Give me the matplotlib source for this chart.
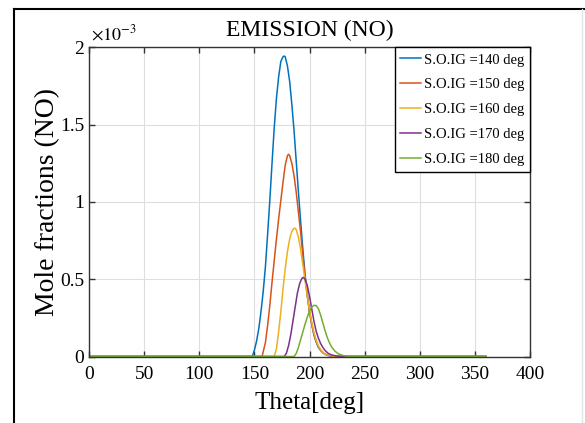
import matplotlib
matplotlib.use("Agg")
import matplotlib.pyplot as plt
from matplotlib.lines import Line2D

plt.rcParams['font.family'] = ['Liberation Serif', 'DejaVu Serif']
plt.rcParams['mathtext.fontset'] = 'stix'

# NO mole fraction, in units of 1e-3
theta_140 = [0, 148, 150, 152, 154, 156, 158, 160, 162, 164, 166, 168, 170, 172, 174, 176, 177, 178,
             180, 182, 184, 186, 188, 190, 192, 194, 196, 198, 200, 202, 204, 206, 208, 210, 213, 216,
             220, 224, 360]
no_140 = [0, 0, 0.04, 0.10, 0.18, 0.29, 0.42, 0.58, 0.79, 1.01, 1.25, 1.48, 1.67, 1.81, 1.91, 1.94, 1.945,
          1.94, 1.88, 1.78, 1.63, 1.46, 1.26, 1.06, 0.87, 0.69, 0.53, 0.40, 0.29, 0.21, 0.14, 0.095, 0.06,
          0.04, 0.02, 0.008, 0.002, 0, 0]

theta_150 = [0, 157, 158, 160, 162, 164, 166, 168, 170, 172, 174, 176, 178, 180, 181, 182, 184, 186, 188,
             190, 192, 194, 196, 198, 200, 202, 204, 206, 208, 210, 213, 216, 220, 225, 360]
no_150 = [0, 0, 0.03, 0.09, 0.20, 0.33, 0.48, 0.62, 0.76, 0.89, 1.01, 1.13, 1.24, 1.30, 1.309, 1.30, 1.25,
          1.17, 1.06, 0.93, 0.80, 0.65, 0.51, 0.39, 0.29, 0.21, 0.145, 0.10, 0.065, 0.04, 0.02, 0.009,
          0.003, 0, 0]

theta_160 = [0, 168, 170, 172, 174, 176, 178, 180, 182, 184, 186, 187, 188, 190, 192, 194, 196, 198, 200,
             202, 204, 206, 208, 210, 213, 216, 220, 226, 360]
no_160 = [0, 0, 0.05, 0.16, 0.29, 0.44, 0.57, 0.68, 0.76, 0.81, 0.83, 0.83, 0.82, 0.77, 0.69, 0.59, 0.49,
          0.39, 0.30, 0.22, 0.155, 0.105, 0.07, 0.045, 0.022, 0.01, 0.003, 0, 0]

theta_170 = [0, 177, 179, 181, 183, 185, 187, 189, 191, 193, 194.5, 196, 198, 200, 202, 204, 206, 208,
             210, 212, 214, 217, 220, 224, 230, 360]
no_170 = [0, 0, 0.02, 0.07, 0.14, 0.23, 0.32, 0.41, 0.47, 0.505, 0.512, 0.50, 0.46, 0.39, 0.31, 0.23,
          0.165, 0.12, 0.085, 0.06, 0.04, 0.02, 0.01, 0.004, 0, 0]

theta_180 = [0, 186, 188, 190, 192, 194, 196, 198, 200, 202, 204, 206, 208, 210, 212, 214, 216, 218, 220,
             223, 226, 230, 236, 360]
no_180 = [0, 0, 0.02, 0.06, 0.11, 0.16, 0.21, 0.255, 0.295, 0.32, 0.331, 0.33, 0.31, 0.27, 0.22, 0.17,
          0.125, 0.09, 0.062, 0.035, 0.018, 0.007, 0, 0]

labels = ['S.O.IG =140 deg', 'S.O.IG =150 deg', 'S.O.IG =160 deg', 'S.O.IG =170 deg', 'S.O.IG =180 deg']
colors = ['#0072BD', '#D95319', '#EDB120', '#7E2F8E', '#77AC30']
x_ticks = [0, 50, 100, 150, 200, 250, 300, 350, 400]
y_ticks = [0, 0.5, 1, 1.5, 2]
y_tick_labels = ['0', '0.5', '1', '1.5', '2']

fig = plt.figure(figsize=(5.85, 4.23), dpi=100)
ax = fig.add_axes([89 / 585, (423 - 356.5) / 423, 441 / 585, 309 / 423])

series = [(theta_140, no_140), (theta_150, no_150), (theta_160, no_160),
          (theta_170, no_170), (theta_180, no_180)]
for (th, no), lab, col in zip(series, labels, colors):
    ax.plot(th, no, color=col, lw=1.1, label=lab)

ax.set_xlim(0, 400)
ax.set_ylim(0, 2)
ax.set_xticks(x_ticks)
ax.set_yticks(y_ticks)
ax.set_yticklabels(y_tick_labels)
ax.grid(True, color='#dedede', lw=0.8)
ax.tick_params(direction='in', top=True, right=True, length=4, width=1,
               labelsize=14, color='#333333')
ax.tick_params(axis='x', pad=7)
for s in ax.spines.values():
    s.set_color('#333333')
    s.set_linewidth(1.0)

ax.set_title('EMISSION (NO)', fontsize=17, pad=8)
ax.set_xlabel('Theta[deg]', fontsize=18)
ax.xaxis.set_label_coords(0.5, -0.115)
ax.set_ylabel('Mole fractions (NO)', fontsize=20)
ax.yaxis.set_label_coords(-0.066, 0.5)
ax.text(0.005, 1.012, r'$\times10^{-3}$', transform=ax.transAxes, fontsize=13,
        ha='left', va='bottom')

leg = ax.legend(loc='upper right', fontsize=10.5, labelspacing=0.8, handlelength=1.4,
                handletextpad=0.2, borderpad=0.4, borderaxespad=0, fancybox=False,
                framealpha=1)
leg.get_frame().set_edgecolor('black')
leg.get_frame().set_linewidth(1.0)

# outer frame of the screenshot
fig.add_artist(Line2D([14 / 585, 14 / 585], [0, 1 - 9 / 423], color='black', lw=1.5))
fig.add_artist(Line2D([14 / 585, 1], [1 - 9 / 423, 1 - 9 / 423], color='black', lw=1.5))
fig.add_artist(Line2D([582 / 585, 582 / 585], [0, 1 - 9 / 423], color='#e4e4e4', lw=1))

fig.savefig('out.png', dpi=100)
